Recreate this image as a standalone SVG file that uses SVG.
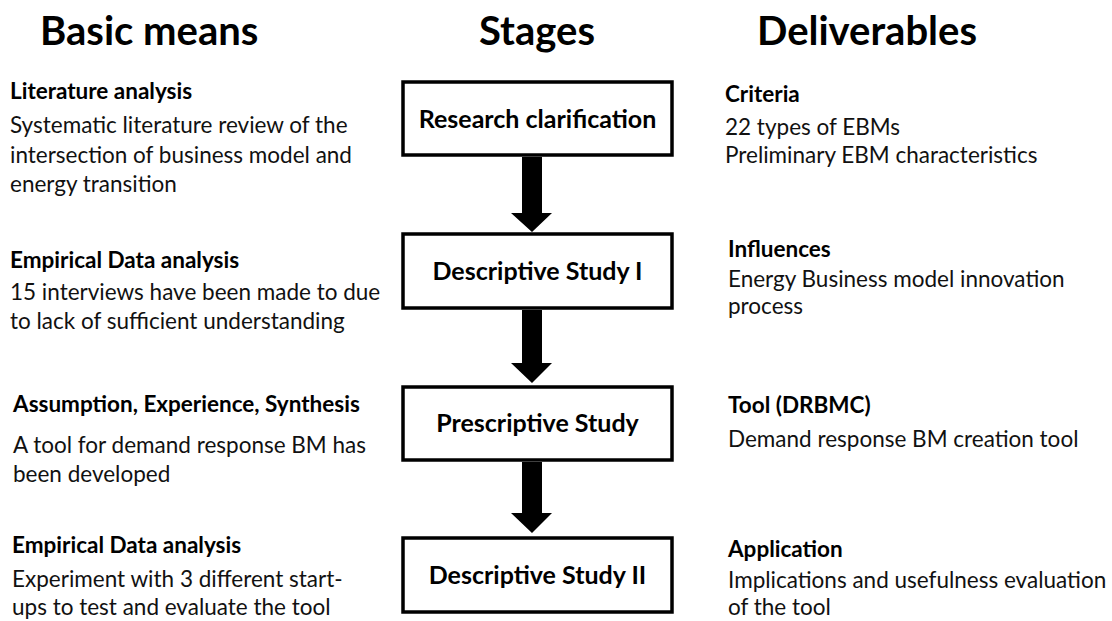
<svg xmlns="http://www.w3.org/2000/svg" width="1112" height="621" viewBox="0 0 1112 621">
<style>
text{font-family:Lato,"Open Sans","Liberation Sans",sans-serif;fill:#000}
.h{font-size:40px;font-weight:bold}
.b{font-size:22.5px;font-weight:bold}
.t{font-size:22.5px;fill:#111}
.s{font-size:25px;font-weight:bold;text-anchor:middle}
.box{fill:#fff;stroke:#000;stroke-width:3.5}
.arr{fill:#000}
</style>
<rect width="1112" height="621" fill="#fff"/>
<g id="headers">
<text class="h" x="40" y="45">Basic means</text>
<text class="h" x="537" y="45" text-anchor="middle">Stages</text>
<text class="h" x="757" y="45">Deliverables</text>
</g>
<g id="connectors">
<path class="arr" d="M522,157 H542 V213 H552 L532,232 L511,213 H522 Z"/>
<path class="arr" d="M522,310 H542 V363 H552 L532,383 L511,363 H522 Z"/>
<path class="arr" d="M522,462 H542 V513 H552 L532,533 L511,513 H522 Z"/>
</g>
<g id="stage1"><rect class="box" x="403" y="82" width="269" height="73"/><text class="s" x="537.5" y="128">Research clarification</text></g>
<g id="stage2"><rect class="box" x="403" y="234" width="269" height="74"/><text class="s" x="537.5" y="280">Descriptive Study I</text></g>
<g id="stage3"><rect class="box" x="403" y="387" width="269" height="73"/><text class="s" x="537.5" y="432">Prescriptive Study</text></g>
<g id="stage4"><rect class="box" x="403" y="538" width="269" height="74"/><text class="s" x="537.5" y="584">Descriptive Study II</text></g>
<g id="means1">
<text class="b" x="10" y="99">Literature analysis</text>
<text class="t" x="10" y="133">Systematic literature review of the</text>
<text class="t" x="10" y="163">intersection of business model and</text>
<text class="t" x="10" y="192">energy transition</text>
</g>
<g id="means2">
<text class="b" x="10" y="268">Empirical Data analysis</text>
<text class="t" x="10" y="300">15 interviews have been made to due</text>
<text class="t" x="10" y="329">to lack of sufficient understanding</text>
</g>
<g id="means3">
<text class="b" x="13" y="412">Assumption, Experience, Synthesis</text>
<text class="t" x="13" y="453">A tool for demand response BM has</text>
<text class="t" x="13" y="482">been developed</text>
</g>
<g id="means4">
<text class="b" x="12" y="553">Empirical Data analysis</text>
<text class="t" x="12" y="587">Experiment with 3 different start-</text>
<text class="t" x="12" y="615">ups to test and evaluate the tool</text>
</g>
<g id="deliv1">
<text class="b" x="725" y="102">Criteria</text>
<text class="t" x="725" y="135">22 types of EBMs</text>
<text class="t" x="725" y="163">Preliminary EBM characteristics</text>
</g>
<g id="deliv2">
<text class="b" x="728" y="257">Influences</text>
<text class="t" x="728" y="287">Energy Business model innovation</text>
<text class="t" x="728" y="314">process</text>
</g>
<g id="deliv3">
<text class="b" x="728" y="413">Tool (DRBMC)</text>
<text class="t" x="728" y="447">Demand response BM creation tool</text>
</g>
<g id="deliv4">
<text class="b" x="728" y="557">Application</text>
<text class="t" x="728" y="588">Implications and usefulness evaluation</text>
<text class="t" x="728" y="615">of the tool</text>
</g>
</svg>
